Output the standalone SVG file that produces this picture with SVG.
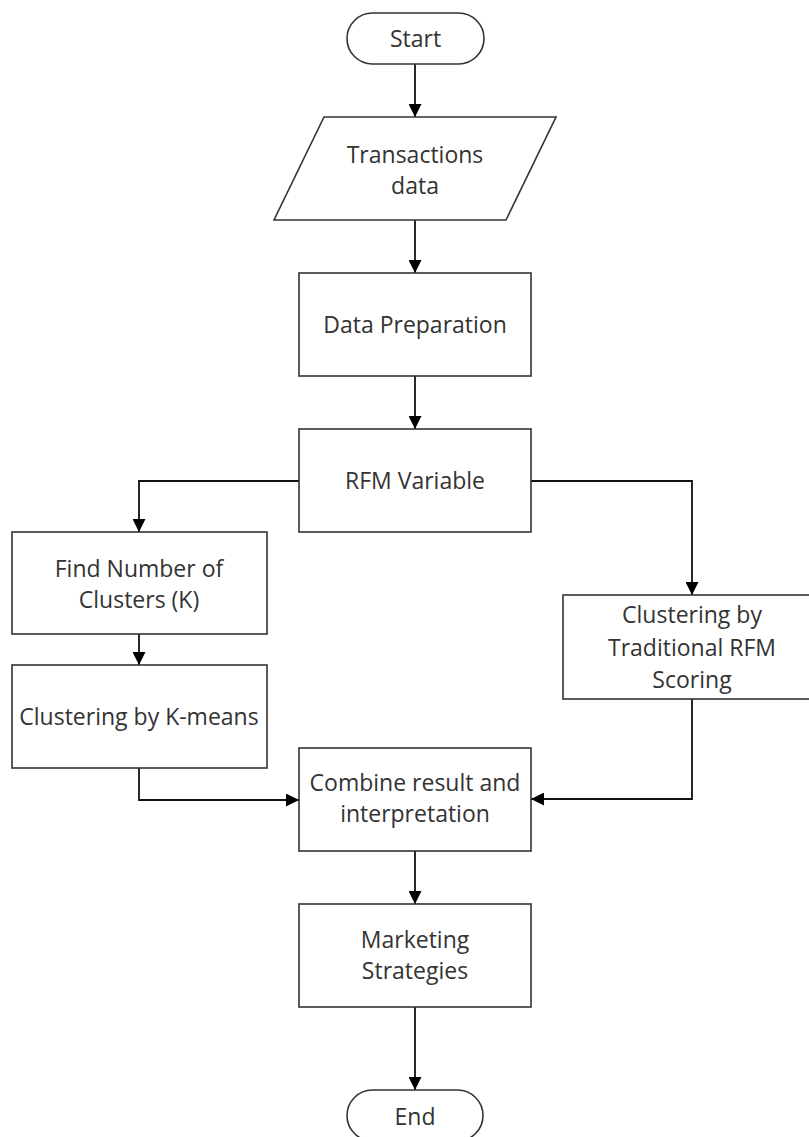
<svg xmlns="http://www.w3.org/2000/svg" width="809" height="1137" viewBox="0 0 809 1137">
<style>
.shape{fill:#ffffff;stroke:#333333;stroke-width:1.6}
.lbl{font-family:"Open Sans","Liberation Sans",sans-serif;font-size:23px;fill:#333333;text-anchor:middle}
.conn{fill:none;stroke:#111111;stroke-width:1.8}
</style>
<defs>
<marker id="arr" viewBox="0 0 13 13" refX="13" refY="6.5" markerWidth="13" markerHeight="13" markerUnits="userSpaceOnUse" orient="auto">
<path d="M0,0 L13,6.5 L0,13 Z" fill="#000000"/>
</marker>
</defs>
<rect width="809" height="1137" fill="#ffffff"/>
<g id="connectors">
<path class="conn" d="M415,64 L415,117" marker-end="url(#arr)"/>
<path class="conn" d="M415,220 L415,273" marker-end="url(#arr)"/>
<path class="conn" d="M415,376 L415,429" marker-end="url(#arr)"/>
<path class="conn" d="M299,481 L139,481 L139,532" marker-end="url(#arr)"/>
<path class="conn" d="M531,481 L692,481 L692,595" marker-end="url(#arr)"/>
<path class="conn" d="M139,634 L139,665" marker-end="url(#arr)"/>
<path class="conn" d="M139,768 L139,800 L299,800" marker-end="url(#arr)"/>
<path class="conn" d="M692,699 L692,799 L531,799" marker-end="url(#arr)"/>
<path class="conn" d="M415,851 L415,904" marker-end="url(#arr)"/>
<path class="conn" d="M415,1007 L415,1090" marker-end="url(#arr)"/>
</g>
<g id="start">
<rect class="shape" x="347" y="13" width="137" height="51" rx="25.5" ry="25.5"/>
<text class="lbl" x="415.5" y="47">Start</text>
</g>
<g id="transactions">
<polygon class="shape" points="324,117 556,117 506,220 274,220"/>
<text class="lbl" x="415" y="163">Transactions</text>
<text class="lbl" x="415" y="194">data</text>
</g>
<g id="data-preparation">
<rect class="shape" x="299" y="273" width="232" height="103"/>
<text class="lbl" x="415" y="333">Data Preparation</text>
</g>
<g id="rfm-variable">
<rect class="shape" x="299" y="429" width="232" height="103"/>
<text class="lbl" x="415" y="489">RFM Variable</text>
</g>
<g id="find-k">
<rect class="shape" x="12" y="532" width="255" height="102"/>
<text class="lbl" x="139" y="577">Find Number of</text>
<text class="lbl" x="139" y="608">Clusters (K)</text>
</g>
<g id="kmeans">
<rect class="shape" x="12" y="665" width="255" height="103"/>
<text class="lbl" x="139" y="725">Clustering by K-means</text>
</g>
<g id="traditional">
<rect class="shape" x="563" y="595" width="258" height="104"/>
<text class="lbl" x="692" y="623">Clustering by</text>
<text class="lbl" x="692" y="656">Traditional RFM</text>
<text class="lbl" x="692" y="688">Scoring</text>
</g>
<g id="combine">
<rect class="shape" x="299" y="748" width="232" height="103"/>
<text class="lbl" x="415" y="791">Combine result and</text>
<text class="lbl" x="415" y="822">interpretation</text>
</g>
<g id="marketing">
<rect class="shape" x="299" y="904" width="232" height="103"/>
<text class="lbl" x="415" y="948">Marketing</text>
<text class="lbl" x="415" y="979">Strategies</text>
</g>
<g id="end">
<rect class="shape" x="347" y="1090" width="136" height="51" rx="25.5" ry="25.5"/>
<text class="lbl" x="415" y="1125">End</text>
</g>
</svg>
